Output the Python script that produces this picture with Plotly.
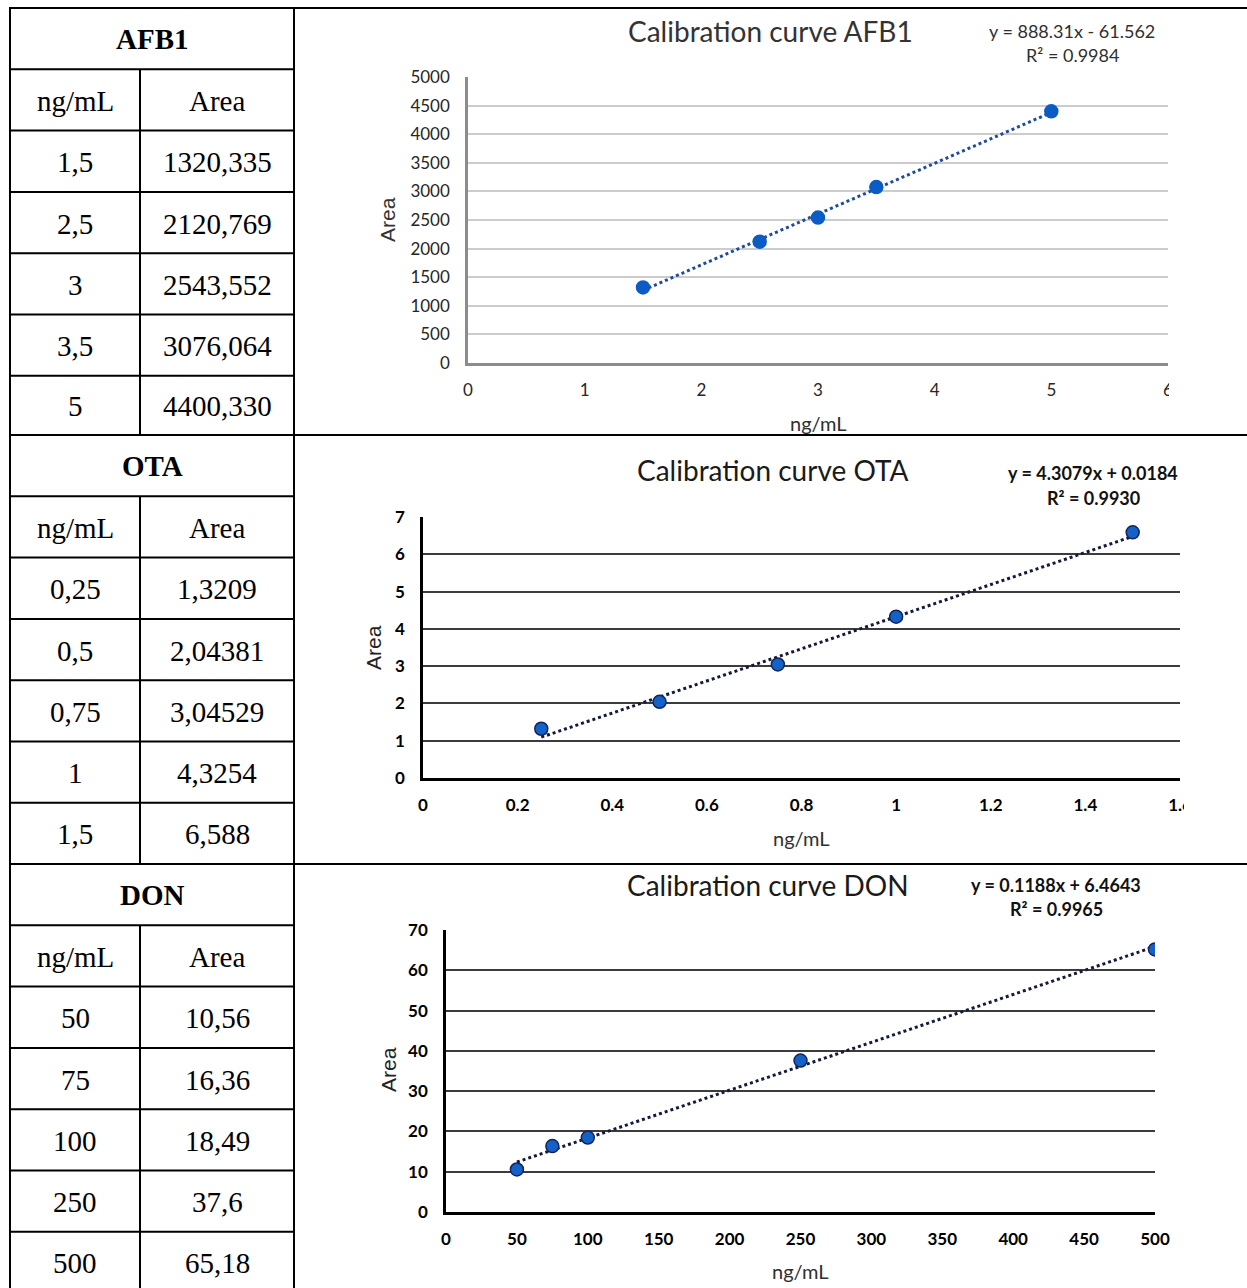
import numpy as np
import plotly.graph_objects as go

W, H = 1247, 1288

# ---------------- data ----------------
afb1_conc = [1.5, 2.5, 3, 3.5, 5]
afb1_area = [1320.335, 2120.769, 2543.552, 3076.064, 4400.330]
afb1_conc_lbl = ["1,5", "2,5", "3", "3,5", "5"]
afb1_area_lbl = ["1320,335", "2120,769", "2543,552", "3076,064", "4400,330"]
afb1_eq = "y = 888.31x - 61.562"
afb1_r2 = "R² = 0.9984"

ota_conc = [0.25, 0.5, 0.75, 1, 1.5]
ota_area = [1.3209, 2.04381, 3.04529, 4.3254, 6.588]
ota_conc_lbl = ["0,25", "0,5", "0,75", "1", "1,5"]
ota_area_lbl = ["1,3209", "2,04381", "3,04529", "4,3254", "6,588"]
ota_eq = "y = 4.3079x + 0.0184"
ota_r2 = "R² = 0.9930"

don_conc = [50, 75, 100, 250, 500]
don_area = [10.56, 16.36, 18.49, 37.6, 65.18]
don_conc_lbl = ["50", "75", "100", "250", "500"]
don_area_lbl = ["10,56", "16,36", "18,49", "37,6", "65,18"]
don_eq = "y = 0.1188x + 6.4643"
don_r2 = "R² = 0.9965"

names = ["AFB1", "OTA", "DON"]
col_headers = ["ng/mL", "Area"]

# ---------------- helpers ----------------
def px(x):
    return x / W

def py(y):
    return 1 - y / H

def note(text, x, y, font, **kw):
    d = dict(text=text, x=px(x), y=py(y), xref="paper", yref="paper", showarrow=False,
             xanchor="center", yanchor="middle", font=font)
    d.update(kw)
    return d

fig = go.Figure()
shapes = []
annotations = []

# ---------------- table ----------------
LINE = dict(color="black", width=2)
x_left, x_mid, x_right = 10, 140, 294
section_tops = [8, 435, 864]
row_h = 61.3
tables = [
    (afb1_conc_lbl, afb1_area_lbl),
    (ota_conc_lbl, ota_area_lbl),
    (don_conc_lbl, don_area_lbl),
]
SERIF = "Liberation Serif"
TFONT = dict(family=SERIF, size=29, color="black")
for s, top in enumerate(section_tops):
    bounds = [top + row_h * k for k in range(8)]
    if s < 2:
        bounds[-1] = section_tops[s + 1]
    shapes.append(dict(type="line", xref="paper", yref="paper",
                       x0=px(x_left - 1), x1=1.0, y0=py(top), y1=py(top), line=LINE))
    for b in bounds[1:7]:
        shapes.append(dict(type="line", xref="paper", yref="paper",
                           x0=px(x_left - 1), x1=px(x_right + 1), y0=py(b), y1=py(b), line=LINE))
    shapes.append(dict(type="line", xref="paper", yref="paper",
                       x0=px(x_mid), x1=px(x_mid), y0=py(bounds[1]), y1=py(min(bounds[7], H)), line=LINE))
    annotations.append(note("<b>%s</b>" % names[s], (x_left + x_right) / 2,
                            (bounds[0] + bounds[1]) / 2, TFONT))
    rows = [col_headers] + [[a, b] for a, b in zip(*tables[s])]
    for r, (c1, c2) in enumerate(rows):
        yc = (bounds[r + 1] + bounds[r + 2]) / 2 + 1
        annotations.append(note(c1, (x_left + x_mid) / 2, yc, TFONT))
        annotations.append(note(c2, (x_mid + x_right) / 2, yc, TFONT))

for xv in (x_left, x_right):
    shapes.append(dict(type="line", xref="paper", yref="paper",
                       x0=px(xv), x1=px(xv), y0=py(section_tops[0] - 1), y1=0, line=LINE))

# ---------------- charts ----------------
SANS = "Lato"
charts = [
    dict(x=afb1_conc, y=afb1_area, eq=afb1_eq, r2=afb1_r2, name="AFB1",
         xdom=(468, 1168), ydom=(363, 77), xr=[0, 6], yr=[0, 5000], dx=1, dy=500,
         grid="#cccccc", axis="#8c8c8c", tickfont=dict(family=SANS, size=17, color="#262626"),
         marker="#0b5cc4", outline="#0b5cc4", trend="#1f4b9e",
         title=(771, 31), eqpos=(1072, 31, 55), area=(388, 220), ng=(819, 423),
         eqbold=False, titlecolor="#333333"),
    dict(x=ota_conc, y=ota_area, eq=ota_eq, r2=ota_r2, name="OTA",
         xdom=(423, 1180), ydom=(778, 517), xr=[0, 1.6], yr=[0, 7], dx=0.2, dy=1,
         grid="#3c3c3c", axis="#000000", tickfont=dict(family=SANS, size=17, color="#000000", weight="bold"),
         marker="#1262c8", outline="#13235e", trend="#141a3c",
         title=(773, 470), eqpos=(1093, 473, 498), area=(374, 648), ng=(801, 838),
         eqbold=True, titlecolor="#1a1a1a"),
    dict(x=don_conc, y=don_area, eq=don_eq, r2=don_r2, name="DON",
         xdom=(446, 1155), ydom=(1212, 930), xr=[0, 500], yr=[0, 70], dx=50, dy=10,
         grid="#3c3c3c", axis="#000000", tickfont=dict(family=SANS, size=17, color="#000000", weight="bold"),
         marker="#1262c8", outline="#13235e", trend="#141a3c",
         title=(768, 885), eqpos=(1056, 885, 909), area=(388, 1070), ng=(800, 1271),
         eqbold=True, titlecolor="#1a1a1a"),
]

layout_axes = {}
for i, c in enumerate(charts, start=1):
    xa = "x" if i == 1 else "x%d" % i
    ya = "y" if i == 1 else "y%d" % i
    slope, intercept = np.polyfit(c["x"], c["y"], 1)
    tx = np.array([min(c["x"]), max(c["x"])])
    ty = slope * tx + intercept
    fig.add_trace(go.Scatter(x=tx, y=ty, mode="lines", xaxis=xa, yaxis=ya,
                             line=dict(color=c["trend"], width=3, dash="dot"),
                             showlegend=False, hoverinfo="skip"))
    fig.add_trace(go.Scatter(x=c["x"], y=c["y"], mode="markers", xaxis=xa, yaxis=ya,
                             marker=dict(size=13, color=c["marker"],
                                         line=dict(color=c["outline"], width=1.5)),
                             showlegend=False, name=c["name"]))
    xkey = "xaxis" if i == 1 else "xaxis%d" % i
    ykey = "yaxis" if i == 1 else "yaxis%d" % i
    layout_axes[xkey] = dict(domain=[px(c["xdom"][0]), px(c["xdom"][1])], range=c["xr"],
                             anchor=ya, dtick=c["dx"], tick0=0, showgrid=False, zeroline=False,
                             showline=True, linecolor=c["axis"], linewidth=3, automargin=False,
                             ticks="", ticklabelstandoff=10, tickfont=c["tickfont"],
                             fixedrange=True)
    layout_axes[ykey] = dict(domain=[py(c["ydom"][0]), py(c["ydom"][1])], range=c["yr"],
                             anchor=xa, dtick=c["dy"], tick0=0, showgrid=True, gridcolor=c["grid"],
                             gridwidth=2, zeroline=False, showline=True, linecolor=c["axis"],
                             linewidth=2.5, ticks="", ticklabelstandoff=12, tickfont=c["tickfont"],
                             automargin=False, fixedrange=True)
    annotations.append(note("Calibration curve %s" % c["name"], c["title"][0], c["title"][1],
                            dict(family=SANS, size=28, color=c["titlecolor"])))
    eqfont = dict(family=SANS, size=18,
                  color="#303030" if not c["eqbold"] else "#111111",
                  weight="bold" if c["eqbold"] else "normal")
    annotations.append(note(c["eq"], c["eqpos"][0], c["eqpos"][1], eqfont))
    annotations.append(note(c["r2"], c["eqpos"][0], c["eqpos"][2], eqfont))
    annotations.append(note("Area", c["area"][0], c["area"][1],
                            dict(family="Liberation Sans", size=21,
                                 color="#222222" if i > 1 else "#333333"), textangle=-90))
    annotations.append(note("ng/mL", c["ng"][0], c["ng"][1],
                            dict(family=SANS, size=20, color="#303030")))

# white masks mimicking the cropped last x tick labels
shapes.append(dict(type="rect", xref="paper", yref="paper", x0=px(1169), x1=1.0,
                   y0=py(405), y1=py(375), fillcolor="white", line=dict(width=0), layer="above"))
shapes.append(dict(type="rect", xref="paper", yref="paper", x0=px(1184), x1=1.0,
                   y0=py(820), y1=py(790), fillcolor="white", line=dict(width=0), layer="above"))

fig.update_layout(width=W, height=H, margin=dict(l=0, r=0, t=0, b=0, pad=0, autoexpand=False),
                  paper_bgcolor="white", plot_bgcolor="white", template="none",
                  shapes=shapes, annotations=annotations, **layout_axes)

fig.write_html("out.html", config={"displayModeBar": False},
               post_script="document.body.style.margin='0';document.body.style.overflow='hidden';")
